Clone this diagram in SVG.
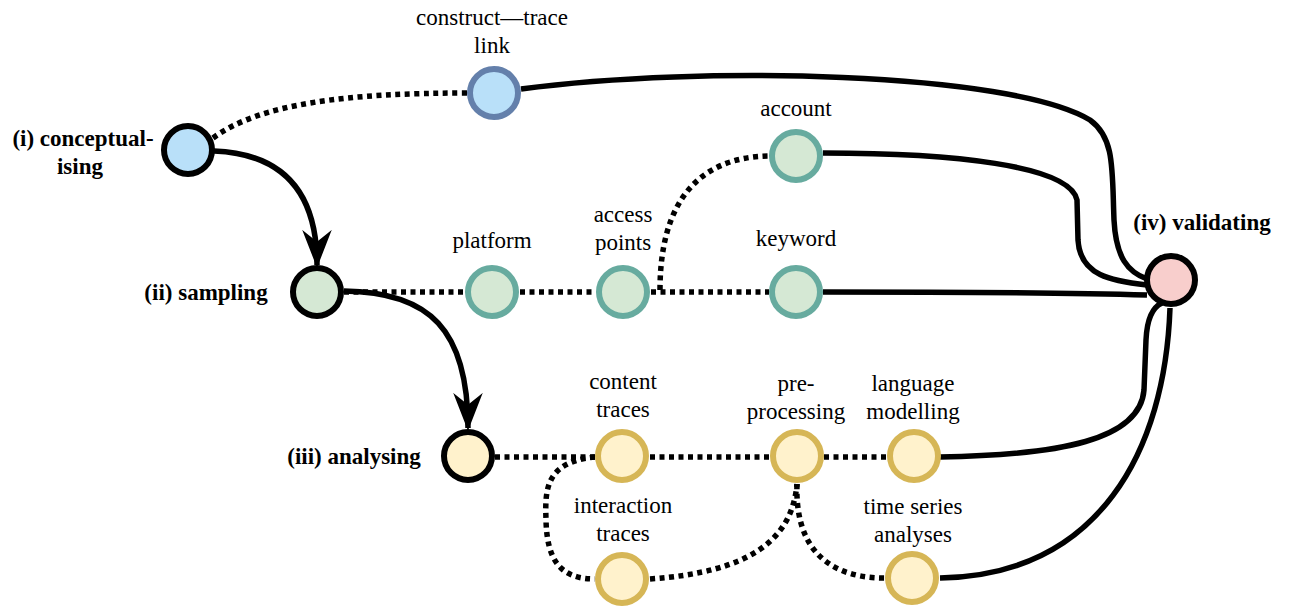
<svg xmlns="http://www.w3.org/2000/svg" width="1291" height="607" viewBox="0 0 1291 607">
<style>
.lbl{font-family:"Liberation Serif","Tinos","Times New Roman","DejaVu Serif",serif;font-size:23px;fill:#000;text-anchor:middle}
.b{font-weight:bold}
.main{stroke:#000;stroke-width:6}
.teal{fill:#D5E8D4;stroke:#67AB9F;stroke-width:6}
.gold{fill:#FFF2CC;stroke:#D6B656;stroke-width:6}
.solid{fill:none;stroke:#000;stroke-width:5.5}
.dot{fill:none;stroke:#000;stroke-width:5.5;stroke-dasharray:5 4.5}
</style>
<defs>
<marker id="arr" markerUnits="userSpaceOnUse" markerWidth="38" markerHeight="32" viewBox="-3 -16 38 32" refX="32" refY="0" orient="auto">
<path d="M0,-12.5 L32,0 L0,12.5 L10,0 Z" fill="#000" stroke="#000" stroke-width="2" stroke-linejoin="miter"/>
</marker>
</defs>
<g id="connectors">
<path class="solid" d="M214,151 C290,154 317,200 317,265" marker-end="url(#arr)"/>
<path class="solid" d="M344,291 C430,292 468,330 468,428" marker-end="url(#arr)"/>
<path class="dot" d="M213,138 C260,103 350,93 467,93"/>
<path class="solid" d="M521,89 C700,65 1010,72 1090,120 C1115,138 1112,170 1114,220 C1116,258 1128,272 1147,279"/>
<path class="solid" d="M823,153 C950,153 1070,165 1077,200 L1078,240 C1080,276 1112,281 1147,285"/>
<path class="solid" d="M823,292 C950,292 1080,293 1147,295"/>
<path class="solid" d="M940,457 C1060,455 1140,440 1144,390 L1146,340 C1147,318 1153,307 1162,303"/>
<path class="solid" d="M940,578 C1100,575 1165,450 1170,308"/>
<path class="dot" d="M344,292 L465,292"/>
<path class="dot" d="M520,292 L596,292"/>
<path class="dot" d="M651,292 L769,292"/>
<path class="dot" d="M660,290 C660,200 700,157 769,156"/>
<path class="dot" d="M495,457 L595,457"/>
<path class="dot" d="M650,457 L770,457"/>
<path class="dot" d="M824,457 L887,457"/>
<path class="dot" d="M595,457 C545,462 545,490 546,520 C547,560 560,579 595,579"/>
<path class="dot" d="M650,579 C750,572 792,540 797,484"/>
<path class="dot" d="M797,484 C795,540 820,578 885,578"/>
</g>
<g id="n-conceptualising">
<circle cx="188" cy="150" r="24" class="main" fill="#B9E0F9"/>
<text class="lbl b" x="83" y="146">(i) conceptual-</text>
<text class="lbl b" x="80" y="174">ising</text>
</g>
<g id="n-construct">
<circle cx="494" cy="93" r="24" fill="#B9E0F9" stroke="#6480AB" stroke-width="6"/>
<text class="lbl" x="492" y="25">construct—trace</text>
<text class="lbl" x="492" y="53">link</text>
</g>
<g id="n-sampling">
<circle cx="317" cy="292" r="24" class="main" fill="#D5E8D4"/>
<text class="lbl b" x="206" y="300">(ii) sampling</text>
</g>
<g id="n-platform">
<circle cx="492" cy="292" r="24" class="teal"/>
<text class="lbl" x="492" y="248">platform</text>
</g>
<g id="n-access">
<circle cx="623" cy="292" r="24" class="teal"/>
<text class="lbl" x="623" y="222">access</text>
<text class="lbl" x="623" y="250">points</text>
</g>
<g id="n-account">
<circle cx="796" cy="156" r="24" class="teal"/>
<text class="lbl" x="796" y="116">account</text>
</g>
<g id="n-keyword">
<circle cx="796" cy="292" r="24" class="teal"/>
<text class="lbl" x="796" y="246">keyword</text>
</g>
<g id="n-validating">
<circle cx="1171" cy="280" r="24" class="main" fill="#F8CECC"/>
<text class="lbl b" x="1202" y="230">(iv) validating</text>
</g>
<g id="n-analysing">
<circle cx="468" cy="456" r="24" class="main" fill="#FFF2CC"/>
<text class="lbl b" x="354" y="464">(iii) analysing</text>
</g>
<g id="n-content">
<circle cx="622" cy="456" r="24" class="gold"/>
<text class="lbl" x="623" y="389">content</text>
<text class="lbl" x="623" y="417">traces</text>
</g>
<g id="n-preprocessing">
<circle cx="797" cy="456" r="24" class="gold"/>
<text class="lbl" x="796" y="391">pre-</text>
<text class="lbl" x="796" y="419">processing</text>
</g>
<g id="n-language">
<circle cx="914" cy="456" r="24" class="gold"/>
<text class="lbl" x="913" y="391">language</text>
<text class="lbl" x="913" y="419">modelling</text>
</g>
<g id="n-interaction">
<circle cx="622" cy="579" r="24" class="gold"/>
<text class="lbl" x="623" y="513">interaction</text>
<text class="lbl" x="623" y="541">traces</text>
</g>
<g id="n-timeseries">
<circle cx="912" cy="578" r="24" class="gold"/>
<text class="lbl" x="913" y="514">time series</text>
<text class="lbl" x="913" y="542">analyses</text>
</g>
</svg>
